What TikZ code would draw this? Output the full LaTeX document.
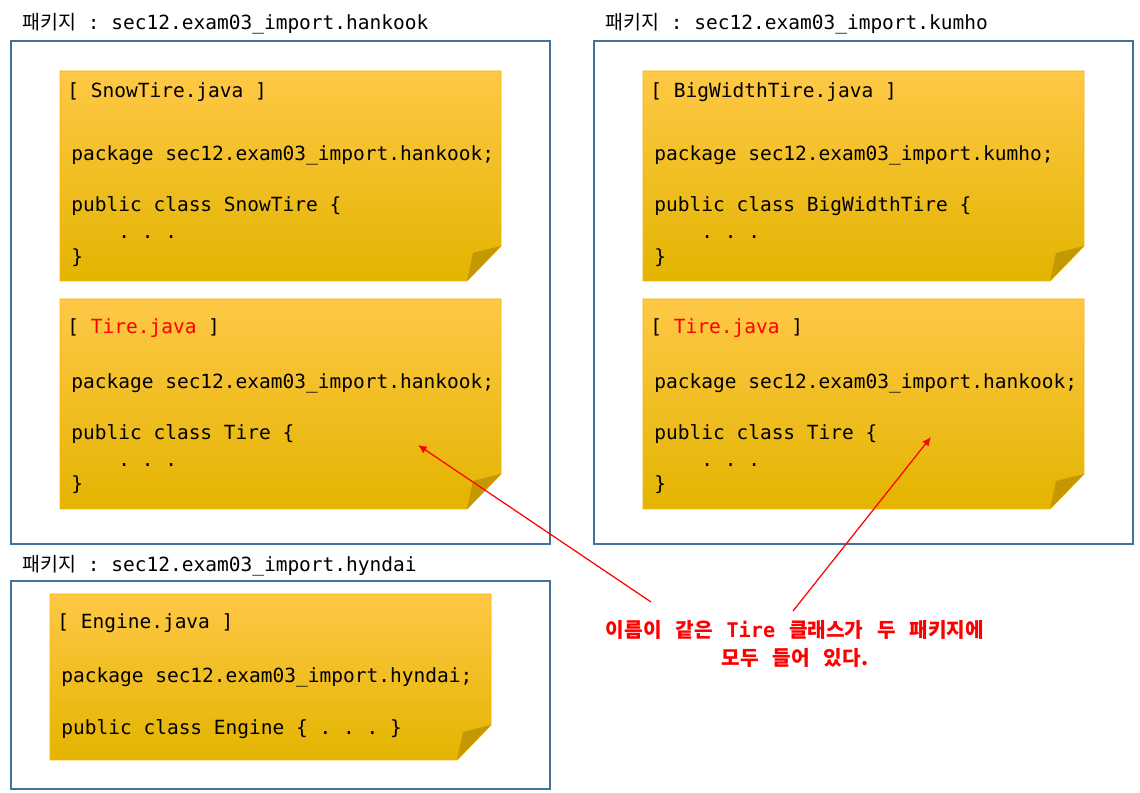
\documentclass[tikz,border=0pt]{standalone}
\usepackage{fontspec}
\setmonofont{DejaVu Sans Mono}
\newfontfamily\krfont{Noto Sans CJK KR}
\newfontfamily\krtipfont{Noto Sans CJK KR}[WordSpace=3]
\usetikzlibrary{arrows.meta}

\definecolor{pkgblue}{RGB}{65,113,156}
\definecolor{notetop}{RGB}{255,200,70}
\definecolor{notemid}{RGB}{255,196,0}
\definecolor{notebot}{RGB}{227,180,0}
\definecolor{noteedge}{RGB}{242,185,0}
\definecolor{notefold}{RGB}{196,152,0}
\definecolor{tipred}{RGB}{255,0,0}

% sticky note: left, top, height (in pixels)
\newcommand{\stickynote}[3]{%
  \path[noteshade] (#1,#2) -- ++(441,0) -- ++(0,{#3-35}) -- ++(-34,35)
    -- ++(-407,0) -- cycle;
  \fill[notefold] (#1+407,#2+#3) -- (#1+413,{#2+#3-28}) -- (#1+441,{#2+#3-35}) -- cycle;
}

\begin{document}
\begin{tikzpicture}[
  x=0.02cm, y=-0.02cm,
  pkgbox/.style = {draw=pkgblue, line width=1.1pt},
  noteshade/.style = {top color=notetop, middle color=notemid, bottom color=notebot,
    draw=noteedge, line width=0.5pt},
  pkglbl/.style = {font=\ttfamily\fontsize{11.1}{13}\selectfont, anchor=west,
    inner sep=0pt, text height=7.5pt, text depth=2pt, yshift=-1.6pt},
  codetxt/.style = {font=\ttfamily\fontsize{11.1}{13}\selectfont, anchor=west,
    inner sep=0pt, text height=7pt, text depth=1.5pt, yshift=-1.6pt},
  tipnote/.style = {font=\krtipfont\bfseries\fontsize{11.5}{15.9}\selectfont,
    text=tipred, align=center, inner sep=0pt},
  tiparrow/.style = {draw=tipred, line width=0.7pt, -{Latex[length=5pt,width=4.5pt]}}
]
  \useasboundingbox (0,0) rectangle (1140,793);

  % 패키지 상자
  \draw[pkgbox] (11,41) rectangle (550,544);
  \draw[pkgbox] (594,41) rectangle (1133,544);
  \draw[pkgbox] (11,581) rectangle (550,789);
  \node[pkglbl] (hankook) at (22,22) {{\krfont 패키지} : sec12.exam03\_import.hankook};
  \node[pkglbl] (kumho) at (605,22) {{\krfont 패키지} : sec12.exam03\_import.kumho};
  \node[pkglbl] (hyndai) at (22,564) {{\krfont 패키지} : sec12.exam03\_import.hyndai};

  % 메모지
  \stickynote{60}{71}{210}
  \stickynote{60}{299}{210}
  \stickynote{643}{71}{210}
  \stickynote{643}{299}{210}
  \stickynote{50}{594}{166}

  % SnowTire.java
  \node[codetxt] (snowT) at (67,90) {[ SnowTire.java ]};
  \node[codetxt] (snowP) at (71,153) {package sec12.exam03\_import.hankook;};
  \node[codetxt] (snowC) at (71,204) {public class SnowTire \{};
  \node[codetxt] (snowD) at (118,231) {. . .};
  \node[codetxt] (snowE) at (71,256) {\}};

  % Tire.java (hankook)
  \node[codetxt] (htireT) at (67,326) {[ \textcolor{tipred}{Tire.java} ]};
  \node[codetxt] (htireP) at (71,381) {package sec12.exam03\_import.hankook;};
  \node[codetxt] (htireC) at (71,432) {public class Tire \{};
  \node[codetxt] (htireD) at (118,459) {. . .};
  \node[codetxt] (htireE) at (71,483) {\}};

  % BigWidthTire.java
  \node[codetxt] (bigT) at (650,90) {[ BigWidthTire.java ]};
  \node[codetxt] (bigP) at (654,153) {package sec12.exam03\_import.kumho;};
  \node[codetxt] (bigC) at (654,204) {public class BigWidthTire \{};
  \node[codetxt] (bigD) at (701,231) {. . .};
  \node[codetxt] (bigE) at (654,256) {\}};

  % Tire.java (kumho)
  \node[codetxt] (ktireT) at (650,326) {[ \textcolor{tipred}{Tire.java} ]};
  \node[codetxt] (ktireP) at (654,381) {package sec12.exam03\_import.hankook;};
  \node[codetxt] (ktireC) at (654,432) {public class Tire \{};
  \node[codetxt] (ktireD) at (701,459) {. . .};
  \node[codetxt] (ktireE) at (654,483) {\}};

  % Engine.java
  \node[codetxt] (engT) at (57,621) {[ Engine.java ]};
  \node[codetxt] (engP) at (61,675) {package sec12.exam03\_import.hyndai;};
  \node[codetxt] (engC) at (61,727) {public class Engine \{ . . . \}};

  % 설명
  \node[tipnote] (samename) at (795,644)
    {이름이 같은 \texttt{Tire} 클래스가 두 패키지에\\모두 들어 있다.};
  \coordinate (lefttail) at (651,602);
  \coordinate (lefthead) at (418,445);
  \coordinate (righttail) at (793,611);
  \coordinate (righthead) at (931,437);
  \draw[tiparrow] (lefttail) -- (lefthead);
  \draw[tiparrow] (righttail) -- (righthead);
\end{tikzpicture}
\end{document}
